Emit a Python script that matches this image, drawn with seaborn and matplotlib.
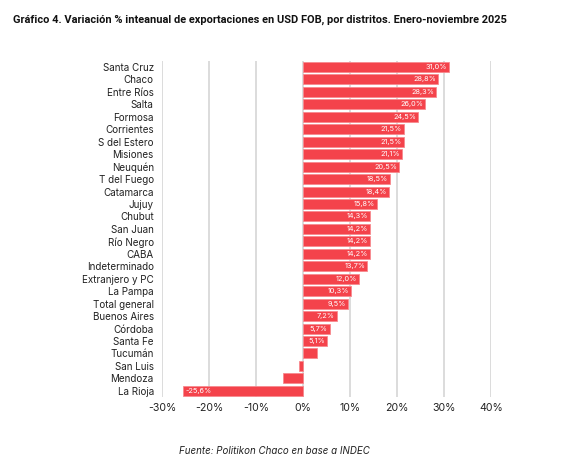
import matplotlib
matplotlib.use("Agg")
import matplotlib.pyplot as plt
import seaborn as sns
import pandas as pd

distritos = ["Santa Cruz", "Chaco", "Entre Ríos", "Salta", "Formosa", "Corrientes",
             "S del Estero", "Misiones", "Neuquén", "T del Fuego", "Catamarca", "Jujuy",
             "Chubut", "San Juan", "Río Negro", "CABA", "Indeterminado", "Extranjero y PC",
             "La Pampa", "Total general", "Buenos Aires", "Córdoba", "Santa Fe", "Tucumán",
             "San Luis", "Mendoza", "La Rioja"]
variacion = [31.0, 28.8, 28.3, 26.0, 24.5, 21.5, 21.5, 21.1, 20.5, 18.5, 18.4, 15.8,
             14.3, 14.2, 14.2, 14.2, 13.7, 12.0, 10.3, 9.5, 7.2, 5.7, 5.1, 2.9,
             -0.9, -4.3, -25.6]
xticks = [-30, -20, -10, 0, 10, 20, 30, 40]

df = pd.DataFrame({"distrito": distritos, "var": variacion})

sns.set_theme(style="white")
plt.rcParams["font.family"] = ["Inter", "DejaVu Sans"]

fig = plt.figure(figsize=(5.61, 4.71), dpi=100)
ax = fig.add_axes([0.289, 0.157, 0.586, 0.714])

sns.barplot(data=df, x="var", y="distrito", orient="h", color="#F4434B",
            saturation=1, width=0.8, edgecolor="#F78A8F", linewidth=0.6, ax=ax, zorder=3)

ax.set_xlim(-30, 40)
ax.set_xticks(xticks)
ax.set_xticklabels([f"{t}%" for t in xticks], fontsize=7.6, color="#222222")
ax.tick_params(axis="y", labelsize=7.1, colors="#222222", length=0, pad=6)
ax.tick_params(axis="x", length=0, pad=4)
ax.set_xlabel("")
ax.set_ylabel("")
for s in ax.spines.values():
    s.set_visible(False)
ax.grid(axis="x", color="#D9D9D9", linewidth=1.3, zorder=0)
ax.set_axisbelow(True)

for i, v in enumerate(variacion):
    if abs(v) < 5:
        continue
    lab = f"{v:.1f}%".replace(".", ",")
    if v >= 0:
        ax.text(v - 0.4, i, lab, ha="right", va="center", fontsize=5.3, color="white", zorder=5)
    else:
        ax.text(v + 0.6, i, lab, ha="left", va="center", fontsize=5.3, color="white", zorder=5)

fig.text(0.023, 0.957, "Gráfico 4. Variación % inteanual de exportaciones en USD FOB, por distritos. Enero-noviembre 2025",
         fontsize=7.9, fontweight="bold", color="#111111", ha="left", va="center",
         family=["Roboto", "DejaVu Sans"])
fig.text(0.49, 0.043, "Fuente: Politikon Chaco en base a INDEC", fontsize=7.0,
         style="italic", color="#222222", ha="center", va="center")

fig.savefig("out.png", dpi=100, facecolor="white")
